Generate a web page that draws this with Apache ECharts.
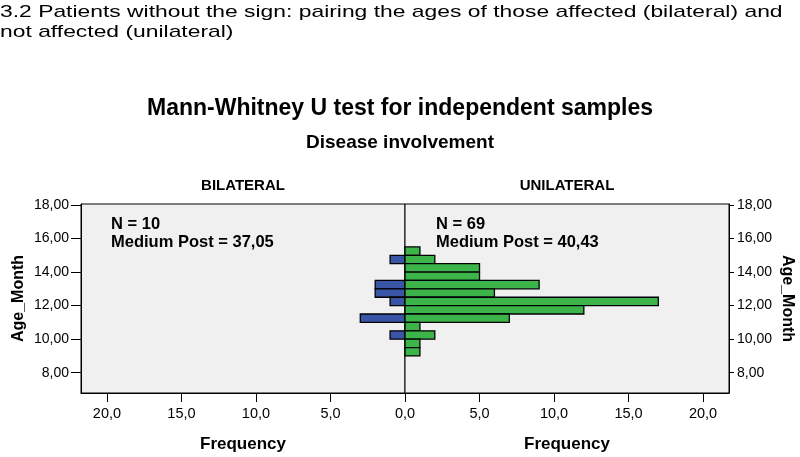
<!DOCTYPE html>
<html>
<head>
<meta charset="utf-8">
<script src="https://cdn.jsdelivr.net/npm/echarts@6/dist/echarts.min.js"></script>
<style>
html,body{margin:0;padding:0;background:#fff;}
#chart{width:800px;height:457px;}
</style>
</head>
<body>
<div id="chart"></div>
<script>
// Bin lower edges (Age_Month), bin width 0.5
const binLow = [15.0, 14.5, 14.0, 13.5, 13.0, 12.5, 12.0, 11.5, 11.0, 10.5, 10.0, 9.5, 9.0];
const binWidth = 0.5;
// Frequencies per bin
const bilateral  = [0, 1, 0, 0, 2, 2, 1, 0, 3, 0, 1, 0, 0];
const unilateral = [1, 2, 5, 5, 9, 6, 17, 12, 7, 1, 2, 1, 1];
// Tick labels
const yTicks = [8, 10, 12, 14, 16, 18];
const groupNames = ['BILATERAL', 'UNILATERAL'];
const groupStats = ['N = 10\nMedium Post = 37,05', 'N = 69\nMedium Post = 40,43'];
const headerText = '3.2 Patients without the sign: pairing the ages of those affected (bilateral) and\nnot affected (unilateral)';

const FONT = 'Liberation Sans, Arial, sans-serif';
const yMin = 6.79, yMax = 18.06, xMax = 21.74;

function toData(counts) {
  const out = [];
  counts.forEach((c, i) => { if (c > 0) out.push([c, binLow[i], binLow[i] + binWidth]); });
  return out;
}
function renderBar(color) {
  return function (params, api) {
    const c = api.value(0), lo = api.value(1), hi = api.value(2);
    const p1 = api.coord([0, hi]);
    const p2 = api.coord([c, lo]);
    const x = Math.min(p1[0], p2[0]), y = Math.min(p1[1], p2[1]);
    return {
      type: 'rect',
      shape: { x: x, y: y, width: Math.abs(p2[0] - p1[0]), height: Math.abs(p2[1] - p1[1]) },
      style: { fill: color, stroke: '#000', lineWidth: 1.3 }
    };
  };
}
const fmtX = v => v.toFixed(1).replace('.', ',');
const fmtY = v => v.toFixed(2).replace('.', ',');

function xAxisCfg(gi, inverse) {
  return {
    gridIndex: gi, type: 'value', min: 0, max: xMax, interval: 5, inverse: inverse,
    name: 'Frequency', nameLocation: 'middle', nameGap: 43,
    nameTextStyle: { fontFamily: FONT, fontWeight: 'bold', fontSize: 17, color: '#000' },
    axisLine: { show: true, onZero: false, lineStyle: { color: '#000', width: 1 } },
    axisTick: { show: true, length: 9, lineStyle: { color: '#000' } },
    axisLabel: { fontFamily: FONT, fontSize: 14.5, color: '#000', margin: 13, formatter: fmtX,
                 showMinLabel: !inverse, showMaxLabel: false },
    splitLine: { show: false }
  };
}
function yAxisCfg(gi, pos) {
  const left = pos === 'left';
  return {
    gridIndex: gi, type: 'value', min: yMin, max: yMax, position: pos,
    name: 'Age_Month', nameLocation: 'middle', nameRotate: left ? 90 : -90,
    nameGap: left ? 54 : 50,
    nameTextStyle: { fontFamily: FONT, fontWeight: 'bold', fontSize: 16, color: '#000' },
    axisLine: { show: true, onZero: false, lineStyle: { color: '#000', width: 1 } },
    axisTick: { show: true, length: left ? 10 : 5, customValues: yTicks, lineStyle: { color: '#000' } },
    axisLabel: { fontFamily: FONT, fontSize: 14, color: '#000', margin: left ? 12 : 8, customValues: yTicks, formatter: fmtY },
    splitLine: { show: false }
  };
}

const chart = echarts.init(document.getElementById('chart'), null, { renderer: 'canvas' });
chart.setOption({
  animation: false,
  backgroundColor: '#fff',
  graphic: [
    { type: 'text', x: 0, y: 3, scaleX: 1.345, scaleY: 1, silent: true,
      style: { text: headerText, font: '17px ' + FONT, lineHeight: 19.5, fill: '#000' } }
  ],
  title: [
    { text: 'Mann-Whitney U test for independent samples', left: 'center', top: 97, padding: 0,
      textStyle: { fontFamily: FONT, fontWeight: 'bold', fontSize: 23, color: '#000' } },
    { text: 'Disease involvement', left: 'center', top: 133, padding: 0,
      textStyle: { fontFamily: FONT, fontWeight: 'bold', fontSize: 19, color: '#000' } },
    { text: groupNames[0], left: 243, textAlign: 'center', top: 178, padding: 0,
      textStyle: { fontFamily: FONT, fontWeight: 'bold', fontSize: 15, color: '#000' } },
    { text: groupNames[1], left: 567, textAlign: 'center', top: 178, padding: 0,
      textStyle: { fontFamily: FONT, fontWeight: 'bold', fontSize: 15, color: '#000' } },
    { text: groupStats[0], left: 111, top: 215, padding: 0,
      textStyle: { fontFamily: FONT, fontWeight: 'bold', fontSize: 16.5, lineHeight: 18, color: '#000' } },
    { text: groupStats[1], left: 436, top: 215, padding: 0,
      textStyle: { fontFamily: FONT, fontWeight: 'bold', fontSize: 16.5, lineHeight: 18, color: '#000' } }
  ],
  grid: [
    { left: 81, top: 204, width: 324, height: 189, show: true, backgroundColor: '#f0f0f0', borderColor: '#000', borderWidth: 1 },
    { left: 405, top: 204, width: 324, height: 189, show: true, backgroundColor: '#f0f0f0', borderColor: '#000', borderWidth: 1 }
  ],
  xAxis: [xAxisCfg(0, true), xAxisCfg(1, false)],
  yAxis: [yAxisCfg(0, 'left'), yAxisCfg(1, 'right')],
  series: [
    { type: 'custom', name: 'BILATERAL', xAxisIndex: 0, yAxisIndex: 0, renderItem: renderBar('#3a55a5'),
      encode: { x: 0, y: [1, 2] }, data: toData(bilateral) },
    { type: 'custom', name: 'UNILATERAL', xAxisIndex: 1, yAxisIndex: 1, renderItem: renderBar('#3cb44a'),
      encode: { x: 0, y: [1, 2] }, data: toData(unilateral) }
  ]
});
</script>
</body>
</html>
